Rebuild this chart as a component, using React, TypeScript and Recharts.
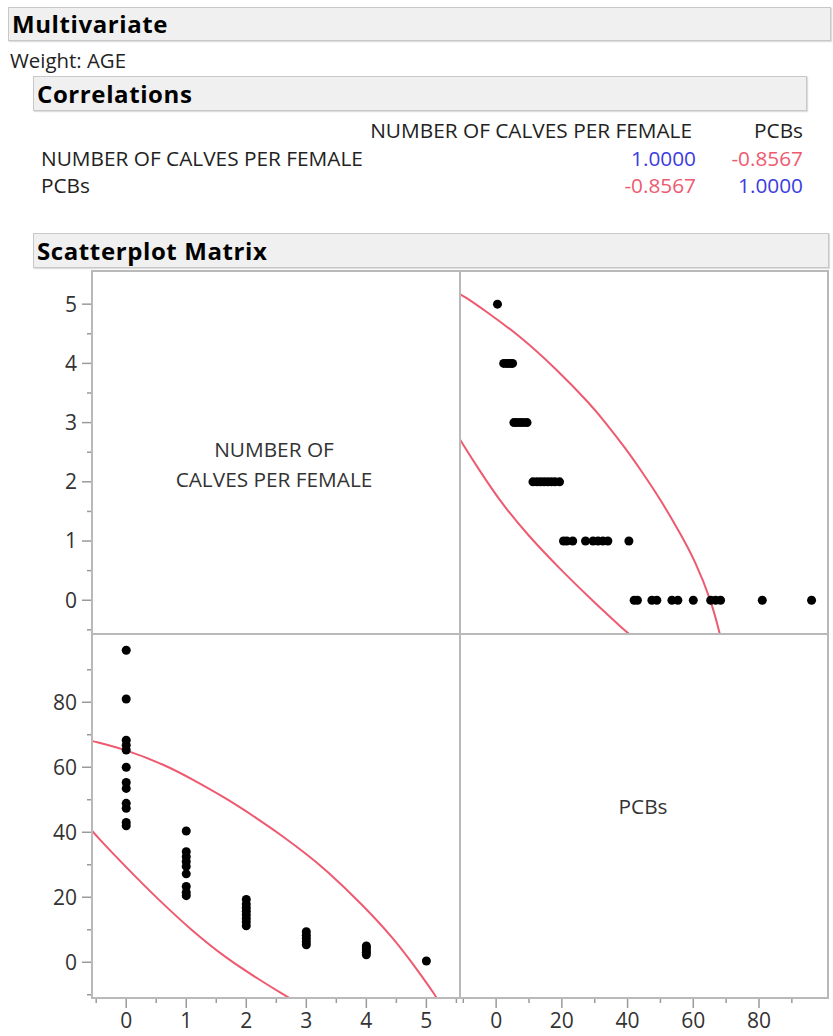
import { ScatterChart, Scatter, XAxis, YAxis } from "recharts";

const FONT = '"Open Sans", "Noto Sans", sans-serif';
const RED = "#ee5a70";
const BLUE = "#3c3ce0";
const FRAME = "#b9b9b9";
const TICK = "#9a9a9a";

// correlations table
const CORR_VARS = ["NUMBER OF CALVES PER FEMALE", "PCBs"];
const CORR_ROW1 = [1.0, -0.8567];
const CORR_ROW2 = [-0.8567, 1.0];

// PCB readings grouped by number of calves
const CALVES = [0, 1, 2, 3, 4, 5];
const PCB_0 = [42, 43, 47.4, 48.9, 53.5, 55.3, 60, 65.3, 66.8, 68.3, 81, 96];
const PCB_1 = [20.5, 21.5, 23.3, 27.2, 29.5, 31, 32.5, 34, 40.4];
const PCB_2 = [11.2, 12.4, 13.5, 14.6, 15.7, 16.8, 17.9, 19.3];
const PCB_3 = [5.4, 6.3, 7.3, 8.3, 9.4];
const PCB_4 = [2.3, 3.1, 3.8, 4.5, 5.0];
const PCB_5 = [0.4];

// density ellipse (calves, PCBs)
const UPPER_CALVES = [-0.6, -0.55, 0, 0.66, 1.1, 1.67, 2.2, 2.57, 3.0, 3.31, 3.92, 4.46, 4.88, 5.15, 5.2];
const UPPER_PCB = [68.2, 68, 65.4, 60.6, 56.3, 50.4, 44, 39.3, 33.3, 28.7, 18, 7.3, -3.1, -10.2, -12];
const LOWER_CALVES = [-0.6, -0.5, 0, 0.5, 1.1, 1.66, 2.22, 2.64, 2.8];
const LOWER_PCB = [41.2, 38.9, 29.2, 19.9, 9.6, 1.3, -5.4, -10.2, -11.9];

const CALVES_DOMAIN = [-0.57, 5.56];
const PCB_DOMAIN = [-11, 101];
const CALVES_Y_TICKS = [-0.5, 0, 0.5, 1, 1.5, 2, 2.5, 3, 3.5, 4, 4.5, 5];
const CALVES_X_TICKS = [...CALVES_Y_TICKS, 5.5];
const PCB_TICKS = [-10, 0, 10, 20, 30, 40, 50, 60, 70, 80, 90];

type Pt = { calves: number; pcb: number };

const groups = [PCB_0, PCB_1, PCB_2, PCB_3, PCB_4, PCB_5];
const points: Pt[] = groups.flatMap((g, i) => g.map((pcb) => ({ calves: CALVES[i], pcb })));
const upperArc: Pt[] = UPPER_CALVES.map((c, i) => ({ calves: c, pcb: UPPER_PCB[i] }));
const lowerArc: Pt[] = LOWER_CALVES.map((c, i) => ({ calves: c, pcb: LOWER_PCB[i] }));

const isCalvesMajor = (v: number) => Number.isInteger(v);
const isPcbMajor = (v: number) => v % 20 === 0;

const leftTick = (isMajor: (v: number) => boolean) => (props: any) => {
  const { x, y, payload } = props;
  const major = isMajor(payload.value);
  return (
    <g>
      <line x1={x - (major ? 10 : 5)} x2={x} y1={y} y2={y} stroke={TICK} strokeWidth={1.5} />
      {major && (
        <text x={x - 15} y={y} dy="0.35em" textAnchor="end" fontFamily={FONT} fontSize={21} fill="#333">
          {payload.value}
        </text>
      )}
    </g>
  );
};

const bottomTick = (isMajor: (v: number) => boolean) => (props: any) => {
  const { x, y, payload } = props;
  const major = isMajor(payload.value);
  return (
    <g>
      <line x1={x} x2={x} y1={y} y2={y + (major ? 10 : 5)} stroke={TICK} strokeWidth={1.5} />
      {major && (
        <text x={x} y={y + 23} dy="0.35em" textAnchor="middle" fontFamily={FONT} fontSize={21} fill="#333">
          {payload.value}
        </text>
      )}
    </g>
  );
};

const dot = (p: any) => <circle cx={p.cx} cy={p.cy} r={4.5} fill="#000" />;
const noDot = () => <g />;

function Header({ left, top, width, height, title }: { left: number; top: number; width: number; height: number; title: string }) {
  return (
    <div
      style={{
        position: "absolute",
        left,
        top,
        width,
        height,
        boxSizing: "border-box",
        background: "#f0f0f0",
        border: "1px solid #c8c8c8",
        boxShadow: "1px 1px 1px #dddddd",
        fontWeight: 700,
        fontSize: 24,
        letterSpacing: 0.6,
        lineHeight: `${height - 2}px`,
        paddingLeft: 3,
        color: "#000",
        whiteSpace: "nowrap",
      }}
    >
      {title}
    </div>
  );
}

function Txt({ x, cy, children, align = "left", color = "#222", size = 20.8 }: any) {
  const style: any = {
    position: "absolute",
    top: cy - 14,
    height: 28,
    lineHeight: "28px",
    fontSize: size,
    color,
    whiteSpace: "nowrap",
  };
  if (align === "right") style.right = 833 - x;
  else if (align === "center") {
    style.left = x - 200;
    style.width = 400;
    style.textAlign = "center";
  } else style.left = x;
  return <div style={style}>{children}</div>;
}

const fmt = (v: number) => v.toFixed(4);

export default function App() {
  const arcLine = { stroke: RED, strokeWidth: 2, fill: "none" };
  return (
    <div
      style={{
        position: "absolute",
        left: 0,
        top: 0,
        width: 833,
        height: 1036,
        background: "#fff",
        fontFamily: FONT,
        overflow: "hidden",
      }}
    >
      <Header left={8} top={7} width={823} height={34} title="Multivariate" />
      <Txt x={10} cy={60} color="#222" size={20.4}>Weight: AGE</Txt>
      <Header left={33} top={76} width={774} height={35} title="Correlations" />

      <Txt x={692} cy={130} align="right">{CORR_VARS[0]}</Txt>
      <Txt x={803} cy={130} align="right">{CORR_VARS[1]}</Txt>
      {[CORR_ROW1, CORR_ROW2].map((row, r) => (
        <div key={r}>
          <Txt x={41} cy={157.5 + r * 27}>{CORR_VARS[r]}</Txt>
          <Txt x={696} cy={157.5 + r * 27} align="right" color={row[0] > 0 ? BLUE : RED}>{fmt(row[0])}</Txt>
          <Txt x={803} cy={157.5 + r * 27} align="right" color={row[1] > 0 ? BLUE : RED}>{fmt(row[1])}</Txt>
        </div>
      ))}

      <Header left={33} top={233} width={796} height={35} title="Scatterplot Matrix" />

      {/* top-left: calves axis + label */}
      <div style={{ position: "absolute", left: 30, top: 271 }}>
        <ScatterChart width={430} height={363} margin={{ top: 0, right: 0, bottom: 0, left: 0 }}>
          <XAxis type="number" dataKey="pcb" hide domain={PCB_DOMAIN} allowDataOverflow />
          <YAxis
            type="number"
            dataKey="calves"
            domain={CALVES_DOMAIN}
            ticks={CALVES_Y_TICKS}
            allowDataOverflow
            width={62}
            axisLine={false}
            tickLine={false}
            tickSize={0}
            tickMargin={0}
            interval={0}
            tick={leftTick(isCalvesMajor)}
          />
          <Scatter data={[]} isAnimationActive={false} />
        </ScatterChart>
      </div>
      <Txt x={274} cy={449} align="center" color="#333">NUMBER OF</Txt>
      <Txt x={274} cy={479} align="center" color="#333">CALVES PER FEMALE</Txt>

      {/* top-right: calves vs PCBs */}
      <div style={{ position: "absolute", left: 460, top: 271 }}>
        <ScatterChart width={368} height={363} margin={{ top: 0, right: 0, bottom: 0, left: 0 }}>
          <XAxis type="number" dataKey="pcb" hide domain={PCB_DOMAIN} allowDataOverflow />
          <YAxis type="number" dataKey="calves" hide domain={CALVES_DOMAIN} allowDataOverflow />
          <Scatter data={upperArc} line={arcLine} lineJointType="basis" shape={noDot} isAnimationActive={false} />
          <Scatter data={lowerArc} line={arcLine} lineJointType="basis" shape={noDot} isAnimationActive={false} />
          <Scatter data={points} shape={dot} isAnimationActive={false} />
        </ScatterChart>
      </div>

      {/* bottom-left: PCBs vs calves */}
      <div style={{ position: "absolute", left: 30, top: 634 }}>
        <ScatterChart width={430} height={402} margin={{ top: 0, right: 0, bottom: 0, left: 0 }}>
          <XAxis
            type="number"
            dataKey="calves"
            domain={CALVES_DOMAIN}
            ticks={CALVES_X_TICKS}
            allowDataOverflow
            height={38}
            axisLine={false}
            tickLine={false}
            tickSize={0}
            tickMargin={0}
            interval={0}
            tick={bottomTick(isCalvesMajor)}
          />
          <YAxis
            type="number"
            dataKey="pcb"
            domain={PCB_DOMAIN}
            ticks={PCB_TICKS}
            allowDataOverflow
            width={62}
            axisLine={false}
            tickLine={false}
            tickSize={0}
            tickMargin={0}
            interval={0}
            tick={leftTick(isPcbMajor)}
          />
          <Scatter data={upperArc} line={arcLine} lineJointType="basis" shape={noDot} isAnimationActive={false} />
          <Scatter data={lowerArc} line={arcLine} lineJointType="basis" shape={noDot} isAnimationActive={false} />
          <Scatter data={points} shape={dot} isAnimationActive={false} />
        </ScatterChart>
      </div>

      {/* bottom-right: PCBs axis + label */}
      <div style={{ position: "absolute", left: 460, top: 634 }}>
        <ScatterChart width={373} height={402} margin={{ top: 0, right: 5, bottom: 0, left: 0 }}>
          <XAxis
            type="number"
            dataKey="pcb"
            domain={PCB_DOMAIN}
            ticks={PCB_TICKS}
            allowDataOverflow
            height={38}
            axisLine={false}
            tickLine={false}
            tickSize={0}
            tickMargin={0}
            interval={0}
            tick={bottomTick(isPcbMajor)}
          />
          <YAxis type="number" dataKey="calves" hide domain={CALVES_DOMAIN} allowDataOverflow />
          <Scatter data={[]} isAnimationActive={false} />
        </ScatterChart>
      </div>
      <Txt x={643} cy={806} align="center" color="#333">PCBs</Txt>

      {/* matrix frame */}
      <div style={{ position: "absolute", left: 91, top: 270, width: 738, height: 729, boxSizing: "border-box", border: `2px solid ${FRAME}` }} />
      <div style={{ position: "absolute", left: 459, top: 270, width: 2, height: 729, background: FRAME }} />
      <div style={{ position: "absolute", left: 91, top: 633, width: 738, height: 2, background: FRAME }} />
    </div>
  );
}
